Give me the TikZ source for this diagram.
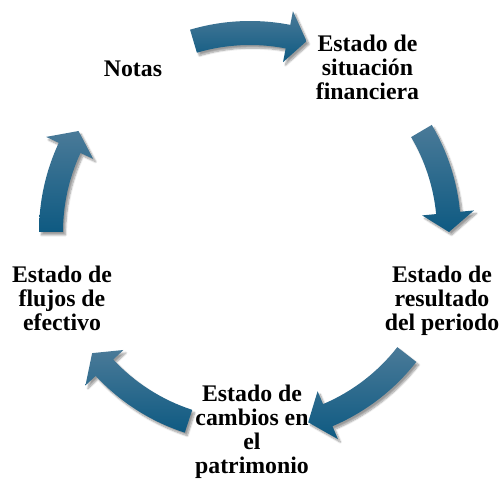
\documentclass[tikz,border=0pt]{standalone}
\usepackage{fontspec}
\setmainfont{Liberation Serif}
\usetikzlibrary{shadows.blur}
\definecolor{arrtop}{RGB}{74,122,152}
\definecolor{arrbot}{RGB}{14,90,130}
\tikzset{
  cyclearrow/.style={top color=arrtop, bottom color=arrbot, draw=none,
    blur shadow={shadow xshift=2.5pt, shadow yshift=-3pt, shadow blur steps=8, shadow opacity=40}},
  cyctext/.style={inner sep=0pt, anchor=base, font=\fontsize{23.8}{24}\selectfont\bfseries}
}
% #1 tail angle, #2 head back angle, #3 tip angle
\newcommand\CycArrow[3]{%
  \path[cyclearrow] (#1:211) arc[start angle=#1, end angle=#2, radius=211]
    -- (#2:225) -- (#3:199) -- (#2:173) -- (#2:187)
    arc[start angle=#2, end angle=#1, radius=187] -- cycle;}
\begin{document}
\begin{tikzpicture}[x=1pt,y=1pt]
\useasboundingbox (0,0) rectangle (499,479);
\begin{scope}[shift={(250,247)}]
  \CycArrow{106.5}{79}{73.5}
  \CycArrow{30.5}{5.5}{0}
  \CycArrow{-38}{-67}{-73}
  \CycArrow{-108}{-137}{-142.5}
  \CycArrow{180}{155}{149.5}
\end{scope}
\node[cyctext] (sit) at (367.5,427) {\begin{tabular}[t]{@{}c@{}}Estado de\\situación\\financiera\end{tabular}};
\node[cyctext] (res) at (442,196) {\begin{tabular}[t]{@{}c@{}}Estado de\\resultado\\del periodo\end{tabular}};
\node[cyctext] (cam) at (252,77) {\begin{tabular}[t]{@{}c@{}}Estado de\\cambios en\\el\\patrimonio\end{tabular}};
\node[cyctext] (flu) at (62,196) {\begin{tabular}[t]{@{}c@{}}Estado de\\flujos de\\efectivo\end{tabular}};
\node[cyctext] (not) at (133,402) {Notas};
\end{tikzpicture}
\end{document}
